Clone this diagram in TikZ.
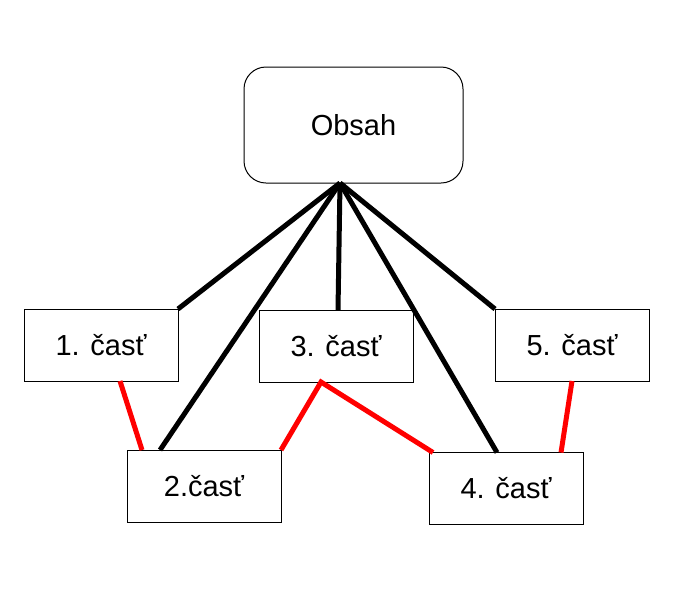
\documentclass[tikz,border=0pt]{standalone}
\usepackage{fontspec}
\setmainfont{Liberation Sans}
\usetikzlibrary{calc}
\begin{document}
\begin{tikzpicture}[x=1pt,y=-1pt,
  part/.style={draw=black,line width=1pt,minimum width=154pt,minimum height=72pt,inner sep=0pt,outer sep=0pt,font=\fontsize{29}{34}\selectfont},
  top/.style={part,minimum width=219pt,minimum height=116pt,rounded corners=22pt},
  blk/.style={line width=5pt,black},
  red/.style={line width=5pt,draw=red}]
\useasboundingbox (0,0) rectangle (700,600);
\node[top] (obs) at (353.5,125) {Obsah};
\node[part] (p1) at (101,345) {1. časť};
\node[part] (p2) at (204,486) {2.časť};
\node[part] (p3) at (336,346) {3. časť};
\node[part] (p4) at (506,488.5) {4. časť};
\node[part] (p5) at (572,345) {5. časť};
\coordinate (hub) at (340,183);
\coordinate (p2a) at ($(p2.north west)+(33,0)$);
\coordinate (p3a) at ($(p3.north west)+(79,0)$);
\coordinate (p4a) at ($(p4.north west)+(68,0)$);
\coordinate (p1b) at ($(p1.south west)+(96,0)$);
\coordinate (p2b) at ($(p2.north west)+(15,0)$);
\coordinate (p3b) at ($(p3.south west)+(62,0)$);
\coordinate (p4b) at ($(p4.north west)+(4,0)$);
\coordinate (p5b) at ($(p5.south west)+(77,0)$);
\coordinate (p4c) at ($(p4.north west)+(132,0)$);
\draw[blk] (hub) -- (p1.north east);
\draw[blk] (hub) -- (p2a);
\draw[blk] (hub) -- (p3a);
\draw[blk] (hub) -- (p4a);
\draw[blk] (hub) -- (p5.north west);
\draw[red] (p1b) -- (p2b);
\draw[red] (p2.north east) -- (p3b) -- (p4b);
\draw[red] (p5b) -- (p4c);
\end{tikzpicture}
\end{document}
